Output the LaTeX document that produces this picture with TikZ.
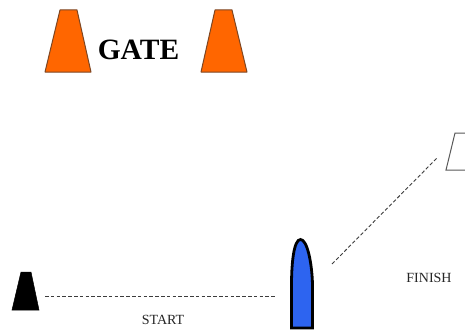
\documentclass[tikz,border=0pt]{standalone}
\usepackage{fontspec}
\setmainfont{Liberation Serif}
\definecolor{coneorange}{RGB}{255,102,0}
\definecolor{coneedge}{RGB}{125,70,35}
\definecolor{boatblue}{RGB}{45,100,240}
\definecolor{dashgray}{RGB}{60,60,60}
\begin{document}
\begin{tikzpicture}[x=1pt,y=-1pt,
  orangecone/.style={fill=coneorange,draw=coneedge,line width=1pt,line join=round},
  blackcone/.style={fill=black,draw=black,line width=0.5pt},
  whitecone/.style={fill=white,draw=black!65,line width=1pt},
  boat/.style={fill=boatblue,draw=black,line width=2.8pt},
  courseline/.style={draw=dashgray,line width=0.9pt,dash pattern=on 3.6pt off 2.2pt},
  smalllabel/.style={font=\fontsize{14}{16}\selectfont,inner sep=0pt,text=black!85}]
\useasboundingbox (0,0) rectangle (465,329);
\clip (0,0) rectangle (465,329);
\fill[white] (0,0) rectangle (465,329);
\draw[orangecone] (60,10) -- (77,10) -- (91,72) -- (45,72) -- cycle;
\draw[orangecone] (215,10) -- (232,10) -- (247,72) -- (201,72) -- cycle;
\node[font=\fontsize{29.5}{32}\selectfont\bfseries,inner sep=0pt] (gate) at (138.5,50) {GATE};
\draw[blackcone] (21,272) -- (31,272) -- (39,310) -- (12,310) -- cycle;
\draw[whitecone] (455,133) -- (474,133) -- (490,170) -- (446,170) -- cycle;
\draw[boat] (291.5,328) -- (291.5,285) .. controls (291.5,262) and (294,239.5) .. (300.5,239.5) .. controls (307,239.5) and (312,262) .. (312.5,285) -- (312.5,328) -- cycle;
\coordinate (startA) at (45,296.5);
\coordinate (startB) at (275,296.5);
\coordinate (finishA) at (332,264);
\coordinate (finishB) at (437,158);
\draw[courseline] (startA) -- (startB);
\draw[courseline] (finishA) -- (finishB);
\node[smalllabel] (start) at (163,320) {START};
\node[smalllabel] (finish) at (429,278) {FINISH};
\end{tikzpicture}
\end{document}
